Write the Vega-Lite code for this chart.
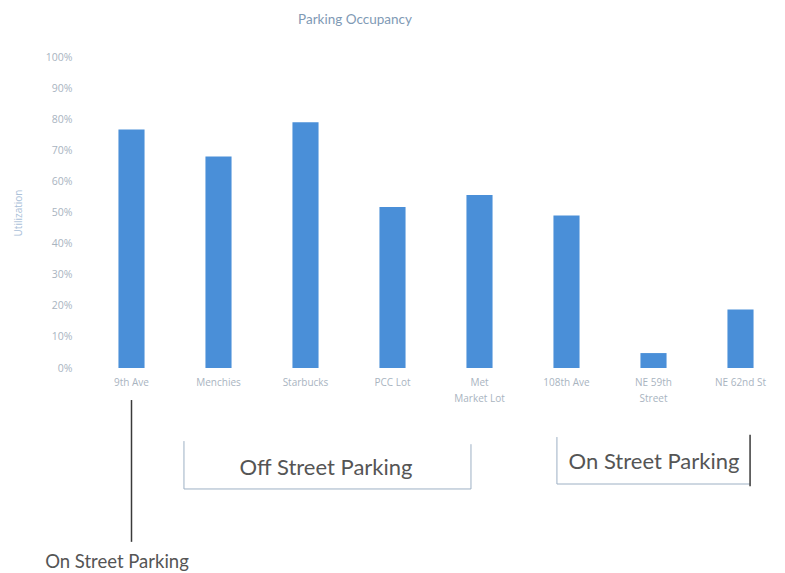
{
  "$schema": "https://vega.github.io/schema/vega-lite/v6.json",
  "width": 696,
  "height": 311,
  "autosize": {"type": "none"},
  "padding": {"left": 88, "top": 57, "right": 1, "bottom": 205},
  "background": "white",
  "config": {
    "view": {"stroke": null},
    "font": "Lato",
    "axis": {"labelOverlap": false, "labelSeparation": 0}
  },
  "title": {
    "text": "Parking Occupancy",
    "fontSize": 13.5,
    "fontWeight": "normal",
    "color": "#7f9ab5",
    "dx": -81,
    "offset": 26,
    "font": "Lato"
  },
  "datasets": {
    "bars": [
      {"site": "9th Ave", "utilization": 0.767},
      {"site": "Menchies", "utilization": 0.68},
      {"site": "Starbucks", "utilization": 0.79},
      {"site": "PCC Lot", "utilization": 0.518},
      {"site": "Met Market Lot", "utilization": 0.556},
      {"site": "108th Ave", "utilization": 0.49},
      {"site": "NE 59th Street", "utilization": 0.048},
      {"site": "NE 62nd St", "utilization": 0.188}
    ],
    "lines": [
      {"part": "off-left", "tone": "light", "x": 0.603, "x2": 0.603, "utilization": -0.235, "utilization2": -0.389},
      {"part": "off-bottom", "tone": "light", "x": 0.603, "x2": 3.902, "utilization": -0.389, "utilization2": -0.389},
      {"part": "off-right", "tone": "light", "x": 3.902, "x2": 3.902, "utilization": -0.245, "utilization2": -0.389},
      {"part": "on-left", "tone": "light", "x": 4.89, "x2": 4.89, "utilization": -0.222, "utilization2": -0.373},
      {"part": "on-bottom", "tone": "light", "x": 4.89, "x2": 7.11, "utilization": -0.373, "utilization2": -0.373},
      {"part": "on-right", "tone": "dark", "x": 7.11, "x2": 7.11, "utilization": -0.215, "utilization2": -0.38},
      {"part": "pointer", "tone": "dark", "x": 0.0, "x2": 0.0, "utilization": -0.103, "utilization2": -0.559}
    ],
    "labels": [
      {"text": "Off Street Parking", "role": "bracket", "x": 2.236, "utilization": -0.322},
      {"text": "On Street Parking", "role": "bracket", "x": 6.006, "utilization": -0.302},
      {"text": "On Street Parking", "role": "pointer", "x": -0.167, "utilization": -0.624}
    ]
  },
  "encoding": {
    "y": {
      "field": "utilization",
      "type": "quantitative",
      "scale": {"domain": [0, 1], "nice": false},
      "axis": {
        "title": "Utilization",
        "titleFontSize": 10,
        "titleFontWeight": "normal",
        "titleColor": "#aac0d8",
        "titleFont": "Open Sans",
        "titlePadding": 22,
        "format": ".0%",
        "values": [0, 0.1, 0.2, 0.3, 0.4, 0.5, 0.6, 0.7, 0.8, 0.9, 1],
        "labelOverlap": false,
        "grid": false,
        "domain": false,
        "ticks": false,
        "labelFont": "Open Sans",
        "labelFontSize": 10.5,
        "labelColor": "#a9b4bf",
        "labelPadding": 16
      }
    }
  },
  "layer": [
    {
      "data": {"name": "bars"},
      "mark": {"type": "bar", "color": "#4a8fd8"},
      "encoding": {
        "x": {
          "field": "site",
          "type": "nominal",
          "sort": null,
          "scale": {"paddingInner": 0.7, "paddingOuter": 0.35},
          "axis": {
            "title": null,
            "domain": false,
            "ticks": false,
            "labelAngle": 0,
            "labelFontSize": 10,
            "labelColor": "#a9b4bf",
            "labelPadding": 9,
            "labelLineHeight": 16,
            "labelFont": "Open Sans",
            "labelOverlap": false,
            "labelExpr": "datum.label == 'Met Market Lot' ? ['Met', 'Market Lot'] : datum.label == 'NE 59th Street' ? ['NE 59th', 'Street'] : datum.label"
          }
        }
      }
    },
    {
      "data": {"name": "lines"},
      "mark": {"type": "rule"},
      "encoding": {
        "x": {"field": "x", "type": "quantitative", "scale": {"domain": [-0.5, 7.5], "nice": false, "zero": false}, "axis": null},
        "x2": {"field": "x2"},
        "y2": {"field": "utilization2"},
        "color": {"field": "tone", "type": "nominal", "scale": {"domain": ["light", "dark"], "range": ["#9db0c4", "#3a3a3a"]}, "legend": null},
        "strokeWidth": {"field": "tone", "type": "nominal", "scale": {"domain": ["light", "dark"], "range": [1, 1.5]}, "legend": null}
      }
    },
    {
      "data": {"name": "labels"},
      "mark": {"type": "text", "color": "#555555", "font": "Lato", "align": "center", "baseline": "middle"},
      "encoding": {
        "x": {"field": "x", "type": "quantitative", "scale": {"domain": [-0.5, 7.5], "nice": false, "zero": false}, "axis": null},
        "text": {"field": "text", "type": "nominal"},
        "size": {"field": "role", "type": "nominal", "scale": {"domain": ["bracket", "pointer"], "range": [22, 18.5]}, "legend": null}
      }
    }
  ],
  "resolve": {"scale": {"x": "independent"}, "axis": {"x": "independent"}}
}
